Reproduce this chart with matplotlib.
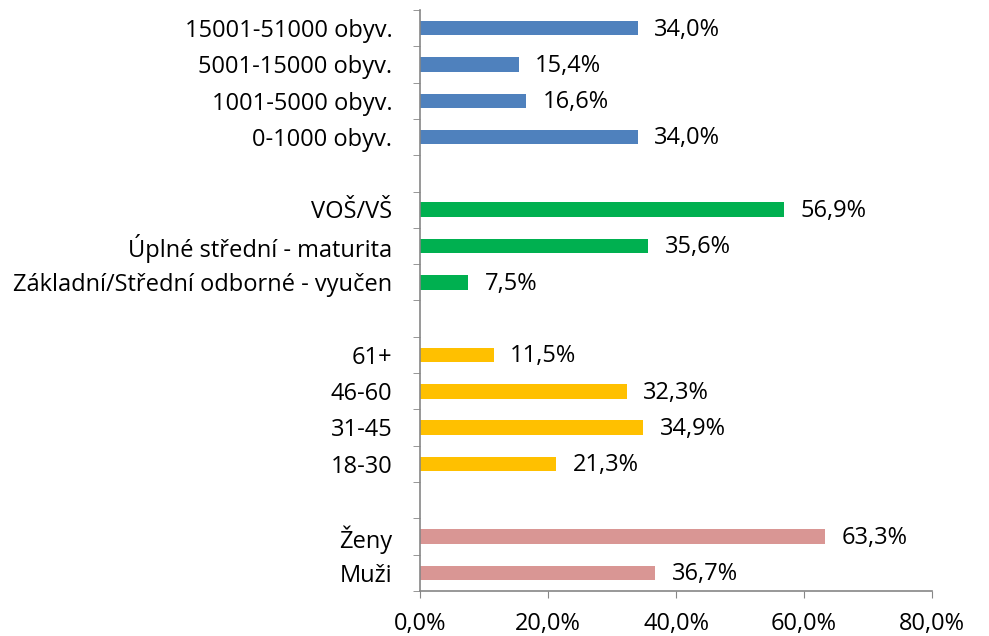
import matplotlib.pyplot as plt
import matplotlib.transforms as mtransforms
import numpy as np

plt.rcParams['font.family'] = ['Open Sans', 'DejaVu Sans']

# groups listed bottom to top
pohlavi = ["Muži", "Ženy"]
pohlavi_val = [36.7, 63.3]
vek = ["18-30", "31-45", "46-60", "61+"]
vek_val = [21.3, 34.9, 32.3, 11.5]
vzdelani = ["Základní/Střední odborné - vyučen", "Úplné střední - maturita", "VOŠ/VŠ"]
vzdelani_val = [7.5, 35.6, 56.9]
obec = ["0-1000 obyv.", "1001-5000 obyv.", "5001-15000 obyv.", "15001-51000 obyv."]
obec_val = [34.0, 16.6, 15.4, 34.0]

groups = [
    (pohlavi, pohlavi_val, "#D99694"),
    (vek, vek_val, "#FFC000"),
    (vzdelani, vzdelani_val, "#00B050"),
    (obec, obec_val, "#4F81BD"),
]

fig = plt.figure(figsize=(9.89, 6.36), dpi=100)
ax = fig.add_axes([0.4247, 0.0708, 0.5177, 0.9135])

labels = []
pos = 0
for names, vals, color in groups:
    y = np.arange(pos, pos + len(names))
    ax.barh(y, vals, height=0.4, color=color)
    for yi, v in zip(y, vals):
        ax.annotate(f"{v:.1f}%".replace(".", ","), (v, yi), xytext=(12, -1),
                    textcoords="offset points", va="center", ha="left", fontsize=17)
    labels += names
    pos += len(names)
    if pos < 15:
        labels.append("")
        pos += 1

ax.set_ylim(-0.5, len(labels) - 0.5)
ax.set_xlim(0, 80)
ax.set_yticks(range(len(labels)))
ax.set_yticklabels(labels, fontsize=17, va="center")
ax.tick_params(axis="y", length=0, pad=20)
ax.set_yticks(np.arange(-0.5, len(labels), 1.0), minor=True)
ax.tick_params(axis="y", which="minor", length=5, color="#868686")

# nudge category labels down a little so they sit on the bar centre
shift = mtransforms.ScaledTranslation(0, -2 / 72, fig.dpi_scale_trans)
for lbl in ax.get_yticklabels():
    lbl.set_transform(lbl.get_transform() + shift)

ax.set_xticks([0, 20, 40, 60, 80])
ax.set_xticklabels(["0,0%", "20,0%", "40,0%", "60,0%", "80,0%"], fontsize=17)
ax.tick_params(axis="x", length=5, color="#868686", pad=10)

for s in ["top", "right"]:
    ax.spines[s].set_visible(False)
for s in ["left", "bottom"]:
    ax.spines[s].set_color("#868686")
    ax.spines[s].set_linewidth(1.2)

plt.savefig("out.png")
